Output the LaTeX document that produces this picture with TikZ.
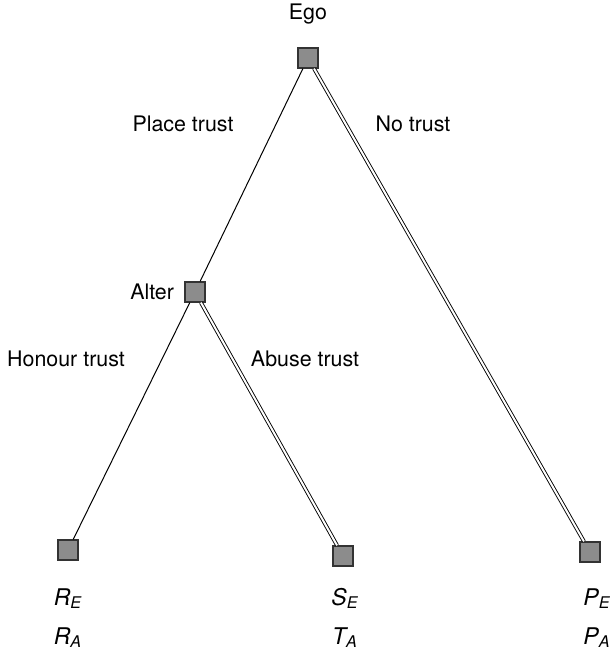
\documentclass[tikz,border=0pt]{standalone}
\usepackage{fontspec}
\setmainfont{TeX Gyre Heros}
\usetikzlibrary{positioning}
\tikzset{
  decision/.style={draw=black!80, fill=black!45, minimum size=10pt, inner sep=0pt, line width=0.6pt},
  move/.style={line width=0.5pt},
  best/.style={double, line width=0.45pt, double distance=1pt},
  lbl/.style={inner sep=1pt},
  payoff/.style={align=center, inner sep=0pt, font=\fontsize{11.5}{13}\selectfont}
}
\newcommand{\pay}[2]{{\itshape #1}\textsubscript{\itshape #2}}

\begin{document}
\begin{tikzpicture}[x=0.5pt, y=-0.5pt, every node/.style={font=\fontsize{10.7}{12.8}\selectfont}]
  \useasboundingbox (0,0) rectangle (612,649);
  % decision points
  \node[decision] (ego) at (308,58) {};
  \node[decision] (alter) at (195,292) {};
  \node[decision] (honour) at (68,550) {};
  \node[decision] (abuse) at (343,556) {};
  \node[decision] (notrust) at (590,552) {};
  % moves
  \draw[move] (ego) -- (alter);
  \draw[best] (ego) -- (notrust);
  \draw[move] (alter) -- (honour);
  \draw[best] (alter) -- (abuse);
  % labels
  \node[lbl] (egolbl) at (308,14) {Ego};
  \node[lbl, left=4pt of alter] (alterlbl) {Alter};
  \node[lbl] (placelbl) at (183,124) {Place trust};
  \node[lbl] (nolbl) at (413,124) {No trust};
  \node[lbl] (honourlbl) at (66,359) {Honour trust};
  \node[lbl] (abuselbl) at (305,359) {Abuse trust};
  % payoffs
  \node[payoff] (honourpay) at (68,618) {\pay{R}{E}\\[6.5pt]\pay{R}{A}};
  \node[payoff] (abusepay) at (345,618) {\pay{S}{E}\\[6.5pt]\pay{T}{A}};
  \node[payoff] (notrustpay) at (597,618) {\pay{P}{E}\\[6.5pt]\pay{P}{A}};
\end{tikzpicture}
\end{document}
